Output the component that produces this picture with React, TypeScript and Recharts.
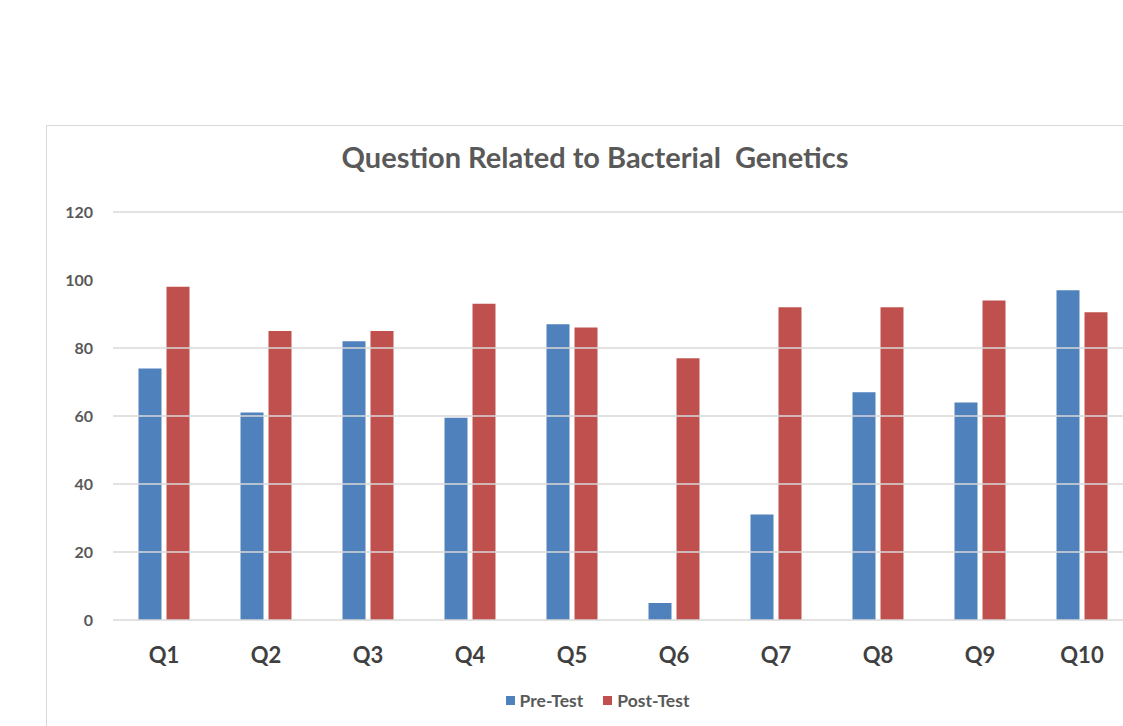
import React from "react";
import {
  BarChart,
  Bar,
  XAxis,
  YAxis,
  Legend,
  ReferenceLine,
} from "recharts";

const QUESTIONS = ["Q1", "Q2", "Q3", "Q4", "Q5", "Q6", "Q7", "Q8", "Q9", "Q10"];
const PRE_TEST = [74, 61, 82, 59.5, 87, 5, 31, 67, 64, 97];
const POST_TEST = [98, 85, 85, 93, 86, 77, 92, 92, 94, 90.5];
const Y_TICKS = [0, 20, 40, 60, 80, 100, 120];
// the original has no gridline at 100
const GRID_VALUES = [20, 40, 60, 80, 120];

const FONT = "Lato, 'Open Sans', sans-serif";
const TEXT = "#595959";
const COLORS = { pre: "#4f81bd", post: "#c0504d" };

const data = QUESTIONS.map((q, i) => ({ q, pre: PRE_TEST[i], post: POST_TEST[i] }));

function LegendContent() {
  const items = [
    { label: "Pre-Test", color: COLORS.pre },
    { label: "Post-Test", color: COLORS.post },
  ];
  return (
    <div style={{ display: "flex", justifyContent: "center", gap: 20 }}>
      {items.map((it) => (
        <div key={it.label} style={{ display: "flex", alignItems: "center", gap: 5 }}>
          <span style={{ width: 9, height: 9, background: it.color, display: "inline-block" }} />
          <span style={{ fontSize: 17.5, fontWeight: 700, color: TEXT }}>{it.label}</span>
        </div>
      ))}
    </div>
  );
}

export default function App() {
  return (
    <div
      style={{
        position: "fixed",
        left: 0,
        top: 0,
        width: 1123,
        height: 726,
        overflow: "hidden",
        background: "#fff",
        fontFamily: FONT,
      }}
    >
      <div
        style={{
          position: "absolute",
          left: 46,
          top: 125,
          width: 1114,
          height: 610,
          border: "1px solid #d9d9d9",
          boxSizing: "border-box",
        }}
      />
      <div
        style={{
          position: "absolute",
          left: 46,
          top: 139,
          width: 1098,
          textAlign: "center",
          fontSize: 29,
          fontWeight: 700,
          color: TEXT,
          whiteSpace: "pre",
        }}
      >
        {"Question Related to Bacterial  Genetics"}
      </div>
      <div style={{ position: "absolute", left: 46, top: 125 }}>
        <BarChart
          width={1114}
          height={610}
          data={data}
          margin={{ top: 87, right: 27, left: 0, bottom: 34 }}
          barCategoryGap="25%"
          barGap={5}
        >
          {GRID_VALUES.map((v) => (
            <ReferenceLine key={v} y={v} stroke="#d9d9d9" strokeWidth={1.3} />
          ))}
          <XAxis
            dataKey="q"
            axisLine={{ stroke: "#d9d9d9", strokeWidth: 1.3 }}
            tickLine={false}
            tickSize={0}
            tickMargin={27}
            height={60}
            tick={{ fontSize: 22, fontWeight: 700, fill: "#404040", fontFamily: FONT }}
          />
          <YAxis
            domain={[0, 120]}
            ticks={Y_TICKS}
            axisLine={false}
            tickLine={false}
            tickSize={0}
            tickMargin={20}
            width={67}
            tick={{ fontSize: 16, fontWeight: 700, fill: TEXT, fontFamily: FONT }}
          />
          <Legend wrapperStyle={{ top: 565, left: 8 }} content={<LegendContent />} />
          <Bar dataKey="pre" name="Pre-Test" fill={COLORS.pre} isAnimationActive={false} />
          <Bar dataKey="post" name="Post-Test" fill={COLORS.post} isAnimationActive={false} />
        </BarChart>
      </div>
    </div>
  );
}
